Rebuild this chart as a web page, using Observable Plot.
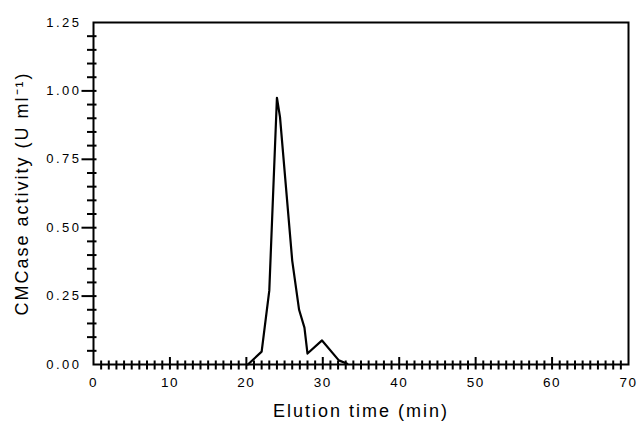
<!DOCTYPE html>
<html><head><meta charset="utf-8">
<script src="https://cdn.jsdelivr.net/npm/d3@7"></script>
<script src="https://cdn.jsdelivr.net/npm/@observablehq/plot@0.6"></script>
<style>
body{margin:0;background:#fff}
#chart svg{font-family:"Liberation Sans",Arial,sans-serif}
#chart svg text{font-family:"Liberation Sans",Arial,sans-serif;fill:#000}
g[aria-label="y-axis tick label"] text{font-size:13px;letter-spacing:2.5px}
g[aria-label="x-axis tick label"] text{font-size:13.5px;letter-spacing:1.5px}
g[aria-label="y-axis label"] text{font-size:18px;letter-spacing:2px}
g[aria-label="x-axis label"] text{font-size:18px;letter-spacing:2px}
</style></head><body><div id="chart"></div>
<script>
// Elution profile
const elutionTime = [20.2, 22, 23, 24, 24.4, 26, 26.9, 27.6, 28, 29.9, 32.1, 33.2];
const activity    = [0, 0.047, 0.27, 0.975, 0.905, 0.38, 0.2, 0.135, 0.04, 0.088, 0.015, 0.003];

// Axis ticks
const xTickLabels = [0, 10, 20, 30, 40, 50, 60, 70];
const yTickLabels = [0, 0.25, 0.5, 0.75, 1.0, 1.25];
const xMajorTicks = [10, 20, 30, 40, 50, 60];
const yMajorTicks = [0.25, 0.5, 0.75, 1.0];
const xMinorTicks = d3.range(1, 70).filter(v => v % 10 !== 0);
const yMinorTicks = d3.range(1, 25).filter(i => i % 5 !== 0).map(i => i * 0.05);

const data = elutionTime.map((t, i) => ({t, a: activity[i]}));

const chart = Plot.plot({
  width: 644, height: 421,
  marginLeft: 93, marginRight: 16, marginTop: 22, marginBottom: 57,
  x: {domain: [0, 70]},
  y: {domain: [0, 1.25]},
  marks: [
    Plot.axisY(yTickLabels, {tickSize: 0, tickPadding: 12, tickFormat: d => d.toFixed(2),
      label: "CMCase activity (U ml\u207B\u00B9)", labelAnchor: "center", labelOffset: 78, labelArrow: "none"}),
    Plot.axisX(xTickLabels, {tickSize: 0, tickPadding: 13, tickFormat: d => String(d),
      label: "Elution time (min)", labelAnchor: "center", labelOffset: 52, labelArrow: "none"}),
    Plot.ruleY(yMajorTicks, {y: d => d, x1: 0, x2: 0, insetLeft: -11.5, insetRight: -3.5, strokeWidth: 2}),
    Plot.ruleY(yMinorTicks, {y: d => d, x1: 0, x2: 0, insetLeft: -6, insetRight: -3.5, strokeWidth: 2}),
    Plot.ruleX(xMajorTicks, {x: d => d, y1: 0, y2: 0, insetTop: -7, insetBottom: -5.5, strokeWidth: 2}),
    Plot.ruleX(xMinorTicks, {x: d => d, y1: 0, y2: 0, insetTop: -3.5, insetBottom: -5.5, strokeWidth: 2}),
    Plot.frame({stroke: "black", strokeWidth: 2}),
    Plot.line(data, {x: "t", y: "a", stroke: "black", strokeWidth: 2.2})
  ]
});
document.getElementById("chart").append(chart);
</script></body></html>
